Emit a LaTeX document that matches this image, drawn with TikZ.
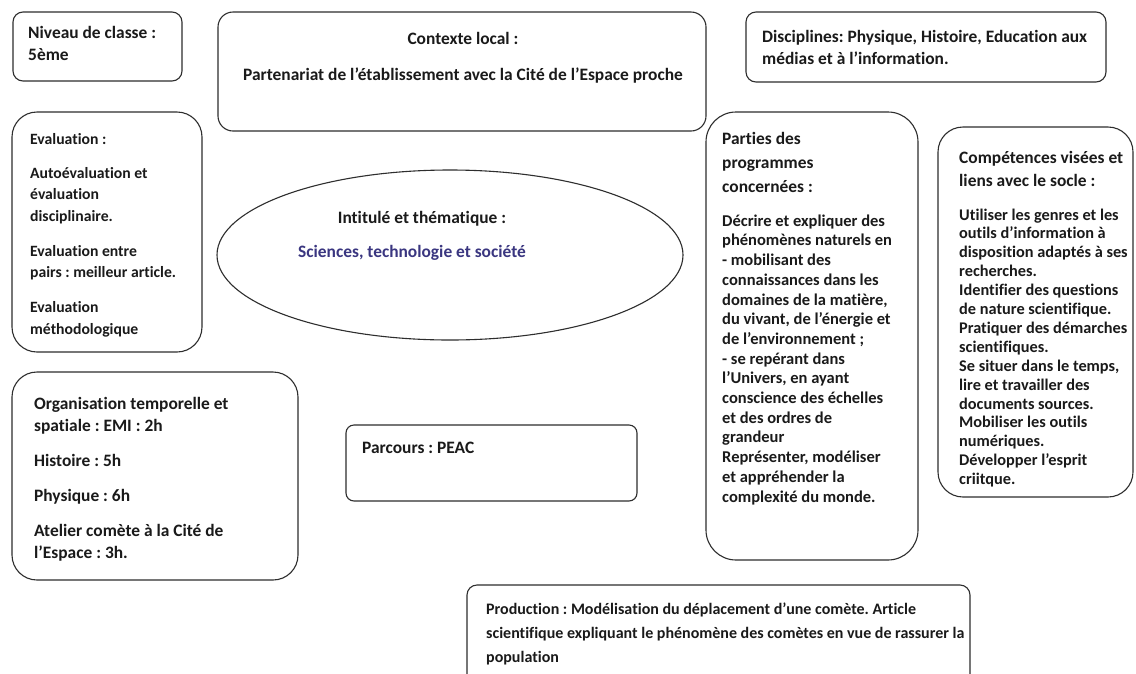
\documentclass[tikz,border=0pt]{standalone}
\usepackage{fontspec}
\usetikzlibrary{shapes.geometric}
\setmainfont{Carlito}[Ligatures={NoCommon}]
\frenchspacing
\definecolor{bordc}{HTML}{2E2E2E}
\definecolor{txtc}{HTML}{1A1A1A}
\definecolor{bluec}{HTML}{3A3680}
\newcommand{\mystrut}{\rule{0pt}{1em}}
\newcommand{\fs}[2]{\fontsize{#1}{#2}\selectfont\bfseries}
\begin{document}
\begin{tikzpicture}[x=1pt,y=-1pt,
  box/.style={draw=bordc, line width=1.1pt, rounded corners=#1, anchor=north west, inner sep=0pt, outer sep=0pt},
  txt/.style={anchor=north west, inner sep=0pt, align=left, text=txtc, font=\fs{17.4}{22}},
]
\useasboundingbox (0,0) rectangle (1136,673);
\clip (0,0) rectangle (1136,673);
\fill[white] (0,0) rectangle (1136,673);

% boxes
\node[box=10pt, minimum width=169pt, minimum height=69pt] (niveau) at (13,12) {};
\node[box=15pt, minimum width=488pt, minimum height=119pt] (contexte) at (218,12) {};
\node[box=10pt, minimum width=360pt, minimum height=70pt] (disc) at (746,12) {};
\node[box=25pt, minimum width=190pt, minimum height=240pt] (eval) at (12,112) {};
\node[box=30pt, minimum width=212pt, minimum height=448pt] (parties) at (706,112) {};
\node[box=25pt, minimum width=195pt, minimum height=370pt] (comp) at (938,127) {};
\node[box=25pt, minimum width=286pt, minimum height=208pt] (orga) at (12,372) {};
\node[box=8pt, minimum width=291pt, minimum height=76pt] (parcours) at (346,425) {};
\node[box=10pt, minimum width=503pt, minimum height=110pt] (prod) at (467,585) {};
\node[draw=bordc, line width=1.1pt, ellipse, inner sep=0pt, minimum width=466pt, minimum height=170pt] (intitule) at (450,255) {};

% texts (node y = first baseline - font size)
\node[txt] (tniveau) at (28,20.6) {\mystrut Niveau de classe :\\5ème};
\node[txt, anchor=north, align=center] (tcontexte) at (463,26.6) {\mystrut Contexte local :\\[14pt]Partenariat de l’établissement avec la Cité de l’Espace proche};
\node[txt] (tdisc) at (762,24.6) {\mystrut Disciplines: Physique, Histoire, Education aux\\médias et à l’information.};
\node[txt, font=\fs{15.7}{22}] (tevalh) at (30,128.3) {\mystrut Evaluation :};
\node[txt, font=\fs{15.7}{21.5}] (tevalb) at (30,162.3) {\mystrut Autoévaluation et\\évaluation\\disciplinaire.\\[13.5pt]Evaluation entre\\pairs : meilleur article.\\[13.5pt]Evaluation\\méthodologique};
\node[txt, anchor=north] (tintit) at (422,205.6) {\mystrut Intitulé et thématique :};
\node[txt, anchor=north, text=bluec] (tintit2) at (412,239.6) {\mystrut Sciences, technologie et société};
\node[txt, font=\fs{17.4}{24}] (tpartiesh) at (722,126.6) {\mystrut Parties des\\programmes\\concernées :};
\node[txt, font=\fs{16.5}{19.7}] (tpartiesb) at (722,209.5) {\mystrut Décrire et expliquer des\\phénomènes naturels en\\- mobilisant des\\connaissances dans les\\domaines de la matière,\\du vivant, de l’énergie et\\de l’environnement ;\\- se repérant dans\\l’Univers, en ayant\\conscience des échelles\\et des ordres de\\grandeur\\Représenter, modéliser\\et appréhender la\\complexité du monde.};
\node[txt, font=\fs{17.4}{23}] (tcomph) at (959,145.6) {\mystrut Compétences visées et\\liens avec le socle :};
\node[txt, font=\fs{16.3}{18.9}] (tcompb) at (959,203.5) {\mystrut Utiliser les genres et les\\outils d’information à\\disposition adaptés à ses\\recherches.\\Identifier des questions\\de nature scientifique.\\Pratiquer des démarches\\scientifiques.\\Se situer dans le temps,\\lire et travailler des\\documents sources.\\Mobiliser les outils\\numériques.\\Développer l’esprit\\criitque.};
\node[txt] (torga) at (34,391.6) {\mystrut Organisation temporelle et\\spatiale : EMI : 2h\\[13pt]Histoire : 5h\\[13pt]Physique : 6h\\[13pt]Atelier comète à la Cité de\\l’Espace : 3h.};
\node[txt] (tparcours) at (362,435.6) {\mystrut Parcours : PEAC};
\node[txt, font=\fs{16}{24}] (tprod) at (486,598) {\mystrut Production : Modélisation du déplacement d’une comète. Article\\scientifique expliquant le phénomène des comètes en vue de rassurer la\\population};
\end{tikzpicture}
\end{document}
